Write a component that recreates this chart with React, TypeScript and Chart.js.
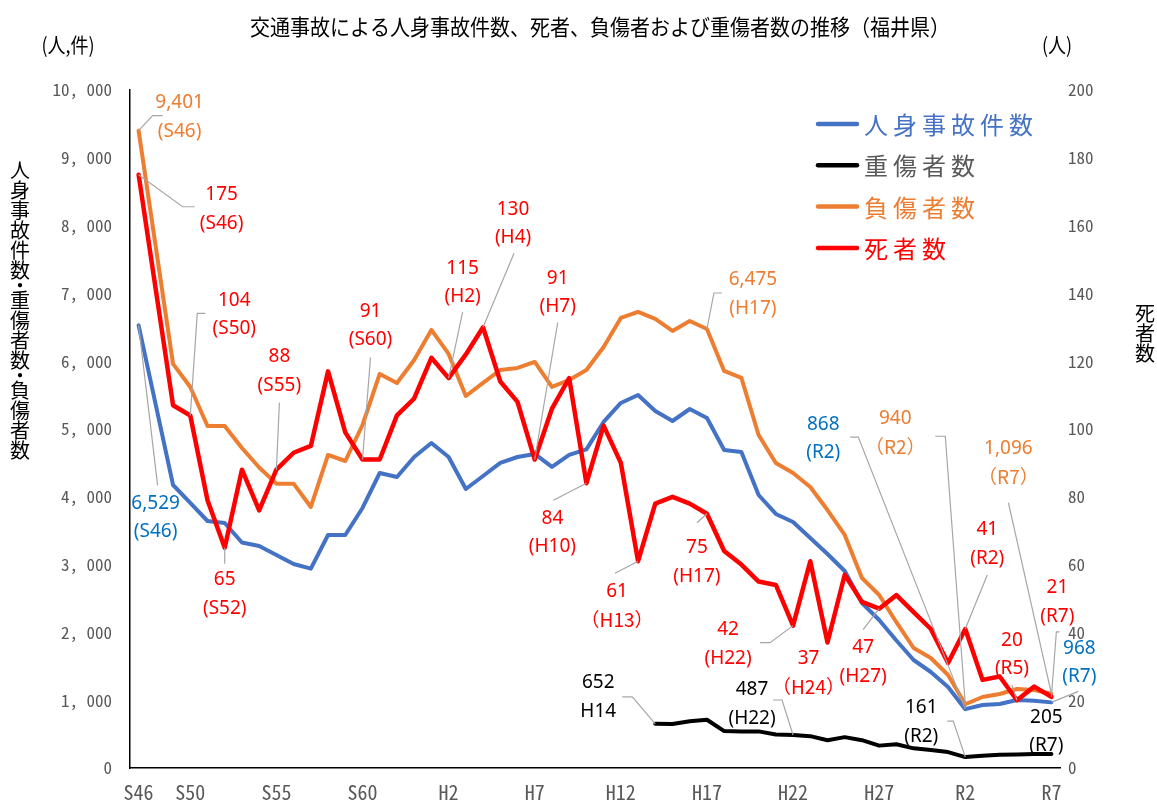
import React, { useEffect, useRef } from "react";
import { Chart, registerables } from "chart.js";

Chart.register(...registerables);

// ---- categories (年) ----
const categories = [
  "S46", "S48", "S49", "S50", "S51", "S52", "S53", "S54", "S55", "S56", "S57", "S58", "S59", "S60",
  "S61", "S62", "S63", "H1", "H2", "H3", "H4", "H5", "H6", "H7", "H8", "H9", "H10", "H11", "H12",
  "H13", "H14", "H15", "H16", "H17", "H18", "H19", "H20", "H21", "H22", "H23", "H24", "H25", "H26",
  "H27", "H28", "H29", "H30", "R1", "R2", "R3", "R4", "R5", "R6", "R7",
];

const xTickLabels = ["S46", "S50", "S55", "S60", "H2", "H7", "H12", "H17", "H22", "H27", "R2", "R7"];

// ---- series ----
const accidents = [
  6529, null, 4174, 3909, 3643, 3614, 3326, 3275, 3142, 3009, 2941, 3437, 3437, 3835, 4351, 4292,
  4587, 4794, 4587, 4115, 4307, 4499, 4587, 4632, 4440, 4617, 4700, 5104, 5384, 5502, 5266, 5118,
  5295, 5163, 4690, 4661, 4027, 3747, 3628, 3393, 3156, 2906, 2434, 2183, 1880, 1593, 1416, 1195,
  868, 929, 944, 1003, 993, 968,
];

const seriousInjuries = [
  null, null, null, null, null, null, null, null, null, null, null, null, null, null, null, null,
  null, null, null, null, null, null, null, null, null, null, null, null, null, null,
  652, 650, 690, 712, 545, 540, 540, 495, 487, 470, 410, 455, 410, 330, 350, 290, 265, 235, 161,
  180, 195, 200, 205, 205,
];

const injuries = [
  9401, null, 5960, 5620, 5044, 5044, 4720, 4432, 4194, 4194, 3850, 4617, 4528, 5059, 5812, 5679,
  6018, 6461, 6107, 5487, 5679, 5870, 5900, 5989, 5620, 5723, 5870, 6210, 6638, 6726, 6623, 6446,
  6593, 6475, 5856, 5753, 4912, 4499, 4351, 4145, 3805, 3437, 2803, 2552, 2150, 1770, 1623, 1372,
  940, 1047, 1092, 1165, 1150, 1096,
];

const deaths = [
  175, null, 107, 104, 79, 65, 88, 76, 88, 93, 95, 117, 99, 91, 91, 104, 109, 121, 115, 122, 130,
  114, 108, 91, 106, 115, 84, 101, 90, 61, 78, 80, 78, 75, 64, 60, 55, 54, 42, 61, 37, 57, 49, 47,
  51, 46, 41, 31, 41, 26, 27, 20, 24, 21,
];

const TITLE = "交通事故による人身事故件数、死者、負傷者および重傷者数の推移（福井県）";
const LEFT_UNIT = "(人,件)";
const RIGHT_UNIT = "(人)";
const LEFT_AXIS_TITLE = "人身事故件数・重傷者数・負傷者数";
const RIGHT_AXIS_TITLE = "死者数";

const C_BLUE = "#4472C4";
const C_BLUE_TXT = "#0070C0";
const C_ORANGE = "#ED7D31";
const C_RED = "#FF0000";
const C_BLACK = "#000000";

// data callouts: series id, category index, text lines, colour, text offset, leader vertices (offsets from point)
const callouts = [
  { s: "injuries", i: 0, lines: ["9,401", "(S46)"], color: C_ORANGE, dx: 41, dy: -28, leader: [[24, -15], [14, -15]] },
  { s: "deaths", i: 0, lines: ["175", "(S46)"], color: C_RED, dx: 83, dy: 20, leader: [[56, 32], [44, 32]] },
  { s: "deaths", i: 3, lines: ["104", "(S50)"], color: C_RED, dx: 44, dy: -115, leader: [[15, -102], [7, -102]] },
  { s: "accidents", i: 0, lines: ["6,529", "(S46)"], color: C_BLUE_TXT, dx: 17, dy: 178, leader: [[19, 160]] },
  { s: "deaths", i: 5, lines: ["65", "(S52)"], color: C_RED, dx: 0, dy: 32, leader: [[0, 16]] },
  { s: "deaths", i: 8, lines: ["88", "(S55)"], color: C_RED, dx: 3, dy: -113, leader: [[3, -67]] },
  { s: "deaths", i: 13, lines: ["91", "(S60)"], color: C_RED, dx: 8, dy: -148, leader: [[8, -102]] },
  { s: "deaths", i: 18, lines: ["115", "(H2)"], color: C_RED, dx: 14, dy: -110, leader: [[14, -66]] },
  { s: "deaths", i: 20, lines: ["130", "(H4)"], color: C_RED, dx: 30, dy: -118, leader: [[31, -74]] },
  { s: "deaths", i: 23, lines: ["91", "(H7)"], color: C_RED, dx: 23, dy: -181, leader: [[23, -137]] },
  { s: "deaths", i: 26, lines: ["84", "(H10)"], color: C_RED, dx: -34, dy: 35, leader: [[-33, 17]] },
  { s: "deaths", i: 29, lines: ["61", "（H13）"], color: C_RED, dx: -21, dy: 30, leader: [[-23, 12]] },
  { s: "deaths", i: 33, lines: ["75", "(H17)"], color: C_RED, dx: -10, dy: 34, leader: [[-10, 9]] },
  { s: "deaths", i: 38, lines: ["42", "(H22)"], color: C_RED, dx: -65, dy: 4, leader: [[-33, 17], [-23, 17]] },
  { s: "deaths", i: 40, lines: ["37", "（H24）"], color: C_RED, dx: -19, dy: 16, leader: [] },
  { s: "deaths", i: 43, lines: ["47", "(H27)"], color: C_RED, dx: -16, dy: 39, leader: [[-16, 21]] },
  { s: "injuries", i: 33, lines: ["6,475", "(H17)"], color: C_ORANGE, dx: 46, dy: -49, leader: [[15, -36], [7, -36]] },
  { s: "accidents", i: 48, lines: ["868", "(R2)"], color: C_BLUE_TXT, dx: -142, dy: -285, leader: [[-115, -272], [-107, -272]] },
  { s: "injuries", i: 48, lines: ["940", "（R2）"], color: C_ORANGE, dx: -70, dy: -286, leader: [[-30, -268], [-20, -268]] },
  { s: "injuries", i: 53, lines: ["1,096", "（R7）"], color: C_ORANGE, dx: -43, dy: -245, leader: [[-43, -191]] },
  { s: "deaths", i: 48, lines: ["41", "(R2)"], color: C_RED, dx: 22, dy: -99, leader: [[22, -54]] },
  { s: "deaths", i: 53, lines: ["21", "(R7)"], color: C_RED, dx: 6, dy: -109, leader: [[8, -65], [5, -65]] },
  { s: "deaths", i: 51, lines: ["20", "(R5)"], color: C_RED, dx: -5, dy: -60, leader: [[-5, -15]] },
  { s: "accidents", i: 53, lines: ["968", "(R7)"], color: C_BLUE_TXT, dx: 28, dy: -54, leader: [[27, -11]] },
  { s: "serious", i: 48, lines: ["161", "(R2)"], color: C_BLACK, dx: -44, dy: -49, leader: [[-18, -36], [-12, -36]] },
  { s: "serious", i: 53, lines: ["205", "(R7)"], color: C_BLACK, dx: -5, dy: -37, leader: [] },
  { s: "serious", i: 30, lines: ["652", "H14"], color: C_BLACK, dx: -57, dy: -41, leader: [[-33, -27], [-23, -27]] },
  { s: "serious", i: 38, lines: ["487", "(H22)"], color: C_BLACK, dx: -41, dy: -45, leader: [[-20, -35], [-11, -35]] },
];

const CJK = '"Noto Sans CJK JP", sans-serif';
const LABEL_FONT = '19px "Noto Sans", "Noto Sans CJK JP", sans-serif';
const LABEL_FONT_WIDE = '19px "Noto Sans CJK JP", sans-serif';
const TICK_FONT_FAMILY = '"Noto Sans Mono CJK JP", "DejaVu Sans Mono", monospace';

function drawVertical(ctx: CanvasRenderingContext2D, text: string, x: number, yTop: number, size: number) {
  let y = yTop;
  for (const ch of Array.from(text)) {
    const adv = ch === "・" ? size * 0.5 : size;
    ctx.fillText(ch, x, y + adv / 2);
    y += adv;
  }
}

const chromePlugin = {
  id: "chrome",
  afterDraw(chart: any) {
    const ctx: CanvasRenderingContext2D = chart.ctx;
    ctx.save();
    ctx.fillStyle = "#000";
    ctx.textBaseline = "middle";
    ctx.textAlign = "center";
    // title
    ctx.save();
    ctx.translate(600, 27);
    ctx.scale(1, 1.1);
    ctx.font = `20px ${CJK}`;
    ctx.fillText(TITLE, 0, 0);
    ctx.restore();
    // units
    ctx.save();
    ctx.translate(68, 45);
    ctx.scale(1, 1.15);
    ctx.font = `18px ${CJK}`;
    ctx.fillText(LEFT_UNIT, 0, 0);
    ctx.restore();
    ctx.save();
    ctx.translate(1057, 45);
    ctx.scale(1, 1.15);
    ctx.font = `18px ${CJK}`;
    ctx.fillText(RIGHT_UNIT, 0, 0);
    ctx.restore();
    // axis titles
    ctx.font = `20px ${CJK}`;
    drawVertical(ctx, LEFT_AXIS_TITLE, 20, 160, 20);
    drawVertical(ctx, RIGHT_AXIS_TITLE, 1145, 303, 20);
    ctx.restore();
  },
};

const calloutPlugin = {
  id: "callouts",
  afterDatasetsDraw(chart: any) {
    const ctx: CanvasRenderingContext2D = chart.ctx;
    ctx.save();
    for (const c of callouts) {
      const dsIndex = chart.data.datasets.findIndex((d: any) => d.seriesId === c.s);
      const el = chart.getDatasetMeta(dsIndex).data[c.i];
      if (!el) continue;
      const px = el.x;
      const py = el.y;
      if (c.leader.length) {
        ctx.beginPath();
        ctx.strokeStyle = "#A6A6A6";
        ctx.lineWidth = 1.2;
        ctx.moveTo(px + c.leader[0][0], py + c.leader[0][1]);
        for (let k = 1; k < c.leader.length; k++) ctx.lineTo(px + c.leader[k][0], py + c.leader[k][1]);
        ctx.lineTo(px, py);
        ctx.stroke();
      }
      ctx.fillStyle = c.color;
      ctx.textAlign = "center";
      ctx.textBaseline = "middle";
      c.lines.forEach((t, k) => {
        ctx.font = t.includes("（") ? LABEL_FONT_WIDE : LABEL_FONT;
        ctx.fillText(t, px + c.dx, py + c.dy + k * 28.5);
      });
    }
    ctx.restore();
  },
};

const legendPlugin = {
  id: "customLegend",
  afterDraw(chart: any) {
    const ctx: CanvasRenderingContext2D = chart.ctx;
    ctx.save();
    chart.data.datasets.forEach((d: any, k: number) => {
      const y = 124 + k * 41.3;
      ctx.beginPath();
      ctx.strokeStyle = d.borderColor;
      ctx.lineWidth = 4.5;
      ctx.lineCap = "round";
      ctx.moveTo(818, y);
      ctx.lineTo(857, y);
      ctx.stroke();
      ctx.fillStyle = d.legendColor;
      ctx.font = `24px ${CJK}`;
      (ctx as any).letterSpacing = "5px";
      ctx.textAlign = "left";
      ctx.textBaseline = "middle";
      ctx.fillText(d.label, 864, y + 1);
      (ctx as any).letterSpacing = "0px";
    });
    ctx.restore();
  },
};

export default function App() {
  const ref = useRef<HTMLCanvasElement | null>(null);

  useEffect(() => {
    if (!ref.current) return;
    const tickColor = "#595959";
    const chart = new Chart(ref.current, {
      type: "line",
      data: {
        labels: categories,
        datasets: [
          { label: "人身事故件数", seriesId: "accidents", legendColor: C_BLUE, data: accidents, borderColor: C_BLUE, borderWidth: 4, yAxisID: "y", order: 1 } as any,
          { label: "重傷者数", seriesId: "serious", legendColor: "#595959", data: seriousInjuries, borderColor: C_BLACK, borderWidth: 4, yAxisID: "y", order: 2 } as any,
          { label: "負傷者数", seriesId: "injuries", legendColor: C_ORANGE, data: injuries, borderColor: C_ORANGE, borderWidth: 4, yAxisID: "y", order: 3 } as any,
          { label: "死者数", seriesId: "deaths", legendColor: C_RED, data: deaths, borderColor: C_RED, borderWidth: 4.5, yAxisID: "y1", order: 0 } as any,
        ],
      },
      options: {
        animation: false,
        responsive: false,
        devicePixelRatio: 1,
        spanGaps: true,
        events: [],
        elements: {
          point: { radius: 0, hoverRadius: 0 },
          line: { tension: 0, borderJoinStyle: "round", borderCapStyle: "round", fill: false },
        },
        layout: { padding: { top: 90, left: 0, right: 0, bottom: 0 } },
        plugins: { legend: { display: false }, tooltip: { enabled: false }, title: { display: false } },
        scales: {
          x: {
            offset: true,
            grid: { display: false, drawTicks: false },
            border: { display: true, color: "#000", width: 1.5 },
            ticks: {
              autoSkip: false,
              maxRotation: 0,
              minRotation: 0,
              padding: 12,
              color: tickColor,
              font: { family: TICK_FONT_FAMILY, size: 20 },
              callback: (_v: any, i: number) => (xTickLabels.includes(categories[i]) ? categories[i] : ""),
            },
            afterFit: (s: any) => { s.height = 32; },
          },
          y: {
            position: "left",
            min: 0,
            max: 10000,
            grid: { display: false, drawTicks: false },
            border: { display: true, color: "#000", width: 1.5 },
            ticks: {
              stepSize: 1000,
              padding: 18,
              color: tickColor,
              font: { family: TICK_FONT_FAMILY, size: 17 },
              callback: (v: any) => (Number(v) === 0 ? "0" : Number(v).toLocaleString("en-US").replace(",", ", ")),
            },
            afterFit: (s: any) => { s.width = 130; },
          },
          y1: {
            position: "right",
            min: 0,
            max: 200,
            grid: { display: false, drawTicks: false },
            border: { display: false },
            ticks: {
              stepSize: 20,
              padding: 8,
              color: tickColor,
              font: { family: TICK_FONT_FAMILY, size: 17 },
            },
            afterFit: (s: any) => { s.width = 97; },
          },
        },
      } as any,
      plugins: [chromePlugin, calloutPlugin, legendPlugin],
    });
    return () => chart.destroy();
  }, []);

  return (
    <div style={{ position: "absolute", left: 0, top: 0, width: 1157, height: 800, background: "#fff" }}>
      <canvas ref={ref} width={1157} height={800} style={{ display: "block", width: 1157, height: 800 }} />
    </div>
  );
}
